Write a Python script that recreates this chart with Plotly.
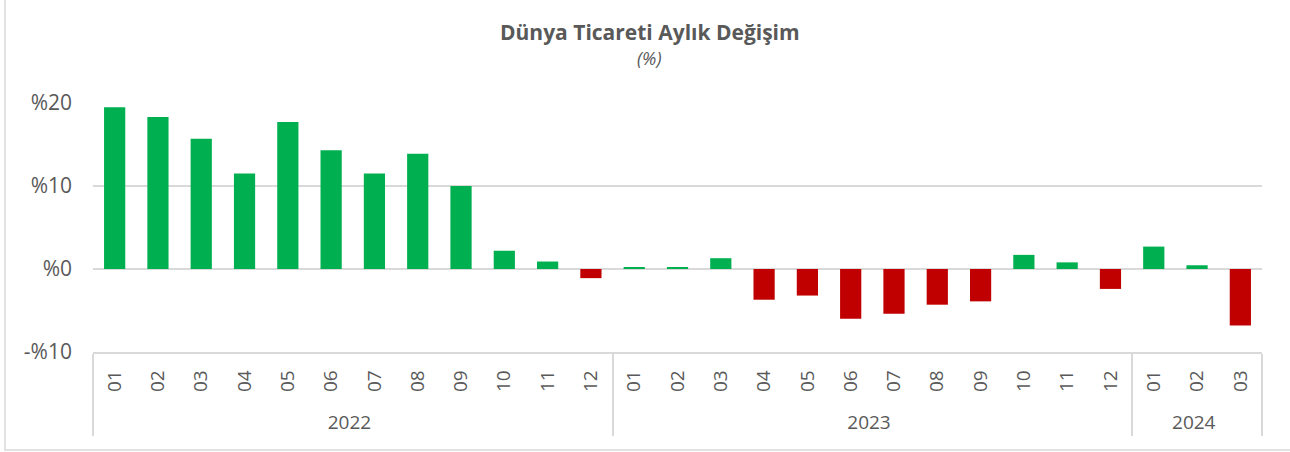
import plotly.graph_objects as go

years = ["2022"] * 12 + ["2023"] * 12 + ["2024"] * 3
months = ["01", "02", "03", "04", "05", "06", "07", "08", "09", "10", "11", "12",
          "01", "02", "03", "04", "05", "06", "07", "08", "09", "10", "11", "12",
          "01", "02", "03"]
change = [19.5, 18.3, 15.7, 11.5, 17.7, 14.3, 11.5, 13.9, 10.0, 2.2, 0.9, -1.1,
          0.2, 0.15, 1.3, -3.7, -3.2, -6.0, -5.4, -4.3, -3.9, 1.7, 0.8, -2.4,
          2.7, 0.45, -6.8]
y_ticks = [-10, 0, 10, 20]
y_labels = ["-%10", "%0", "%10", "%20"]

colors = ["#00B050" if v >= 0 else "#C00000" for v in change]
font = "'Open Sans', 'Noto Sans', sans-serif"
grey = "#595959"

# leading non-breaking spaces give the rotated month labels some room below
month_cats = ["\u00a0\u00a0" + m for m in months]

# plot area in pixels: x 93..1262, y 103..352
L, R, T, B = 93, 1262, 103, 352
W, H = R - L, B - T

fig = go.Figure()
fig.add_trace(go.Bar(x=[years, month_cats], y=change, marker=dict(color=colors, line=dict(width=0)),
                     width=0.49))

fig.update_layout(
    width=1290, height=452,
    margin=dict(l=L, r=1290 - R, t=T, b=452 - B),
    plot_bgcolor="white", paper_bgcolor="white",
    showlegend=False,
    font=dict(family=font, color=grey),
    bargap=0.51,
)
fig.update_yaxes(range=[-10, 20], tickvals=y_ticks, ticktext=y_labels, automargin=False,
                 showgrid=True, gridcolor="#d9d9d9", gridwidth=1.5,
                 zeroline=True, zerolinecolor="#d9d9d9", zerolinewidth=2,
                 tickfont=dict(size=21, color=grey), ticks="", ticklabelstandoff=20)
fig.update_xaxes(type="multicategory", tickangle=-90, tickfont=dict(size=19, color=grey),
                 automargin=False, ticklabelstandoff=9,
                 showline=True, linecolor="#d9d9d9", linewidth=1.5,
                 showdividers=True, dividercolor="#d9d9d9", dividerwidth=1.5,
                 ticks="", mirror=False)

fig.add_annotation(text="<b>Dünya Ticareti Aylık Değişim</b>", xref="paper", yref="paper",
                   x=(650 - L) / W, y=(B - 32) / H, yanchor="middle", showarrow=False,
                   font=dict(size=21, color=grey))
fig.add_annotation(text="<i>(%)</i>", xref="paper", yref="paper",
                   x=(649 - L) / W, y=(B - 58) / H, yanchor="middle", showarrow=False,
                   font=dict(size=18, color=grey))

# light frame around the chart (left and bottom edges visible)
fig.add_shape(type="rect", xref="paper", yref="paper",
              x0=(5 - L) / W, x1=(1300 - L) / W,
              y0=(B - 450) / H, y1=(B + 5) / H,
              line=dict(color="#d9d9d9", width=1.5), layer="below")

fig.write_html("out.html", config={"displayModeBar": False},
               post_script="document.body.style.margin='0px';")
